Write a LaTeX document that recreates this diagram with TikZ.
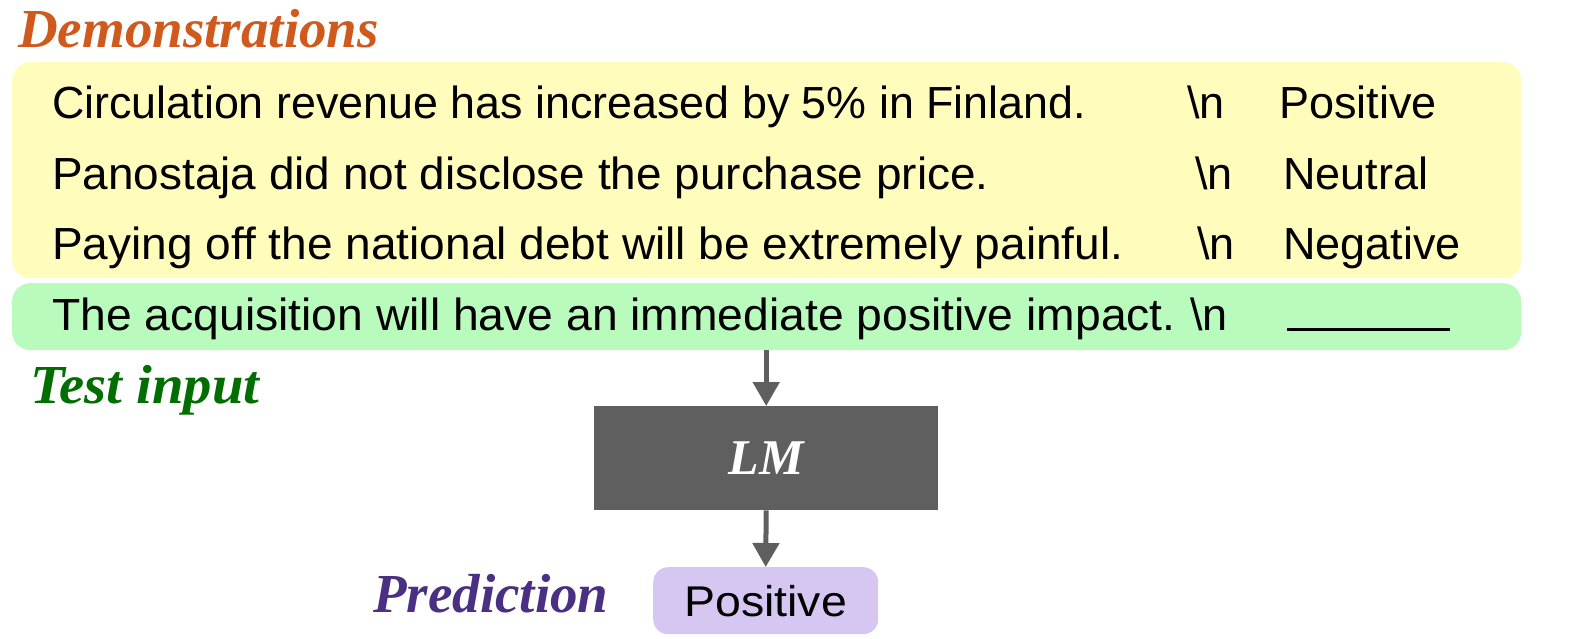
\documentclass[tikz,border=0pt]{standalone}
\usepackage{fontspec}
\setmainfont{Liberation Serif}
\newfontfamily\rowfont{Liberation Sans}
\usetikzlibrary{arrows.meta}
\definecolor{demoyellow}{HTML}{FFFCBC}
\definecolor{testgreen}{HTML}{B9FBBC}
\definecolor{predpurple}{HTML}{D5C6F2}
\definecolor{lmgray}{HTML}{5F5F5F}
\definecolor{demotitle}{HTML}{D05A1E}
\definecolor{testtitle}{HTML}{006E00}
\definecolor{predtitle}{HTML}{4A2F83}
\tikzset{
  rowtext/.style={anchor=base west, inner sep=0pt, font=\rowfont\fontsize{45}{48}\selectfont, text=black},
  title/.style={anchor=base west, inner sep=0pt, font=\bfseries\itshape\fontsize{55}{58}\selectfont},
  panel/.style={draw=none, rounded corners=18pt, inner sep=0pt},
  arr/.style={draw=lmgray, line width=5pt, -{Triangle[width=26pt,length=24pt]}}
}
\begin{document}
\begin{tikzpicture}[x=1pt,y=-1pt]
\useasboundingbox (0,0) rectangle (1569,638);
% panels
\node[panel, fill=demoyellow, minimum width=1509pt, minimum height=216pt, anchor=north west] (demo) at (12,62) {};
\node[panel, fill=testgreen, minimum width=1509pt, minimum height=67pt, anchor=north west] (test) at (12,283) {};
% titles
\node[title, text=demotitle] (demotitle) at (18,47) {\scalebox{1.0}[1]{Demonstrations}};
\node[title, text=testtitle] (testtitle) at (30,403) {\scalebox{1.03}[1]{Test input}};
\node[title, text=predtitle] (predtitle) at (373,612) {\scalebox{1.0}[1]{Prediction}};
% rows
\node[rowtext] (r1) at (52,118) {\scalebox{0.996}[1]{Circulation revenue has increased by 5\% in Finland.}};
\node[rowtext] (r1n) at (1187,118) {\textbackslash n};
\node[rowtext] (r1l) at (1279,118) {Positive};
\node[rowtext] (r2) at (52,189) {\scalebox{1.02}[1]{Panostaja did not disclose the purchase price.}};
\node[rowtext] (r2n) at (1195,189) {\textbackslash n};
\node[rowtext] (r2l) at (1283,189) {Neutral};
\node[rowtext] (r3) at (52,259) {\scalebox{1.023}[1]{Paying off the national debt will be extremely painful.}};
\node[rowtext] (r3n) at (1197,259) {\textbackslash n};
\node[rowtext] (r3l) at (1283,259) {Negative};
\node[rowtext] (r4) at (52,330) {\scalebox{1.028}[1]{The acquisition will have an immediate positive impact.}};
\node[rowtext] (r4n) at (1190,330) {\textbackslash n};
\node[rowtext] (r4l) at (1287,330) {\rule[-1pt]{163pt}{3pt}};
% LM
\node[fill=lmgray, minimum width=344pt, minimum height=104pt, inner sep=0pt, anchor=north west, text=white, font=\bfseries\itshape\fontsize{50}{54}\selectfont] (lm) at (594,406) {LM};
% prediction
\node[panel, rounded corners=15pt, fill=predpurple, minimum width=225pt, minimum height=67pt, anchor=north west, font=\rowfont\fontsize{43}{46}\selectfont] (pred) at (653,567) {\scalebox{1.08}[1]{Positive}};
% arrows
\draw[arr] (lm.north |- test.south) -- (lm.north);
\draw[arr] (lm.south) -- (pred.north);
\end{tikzpicture}
\end{document}
